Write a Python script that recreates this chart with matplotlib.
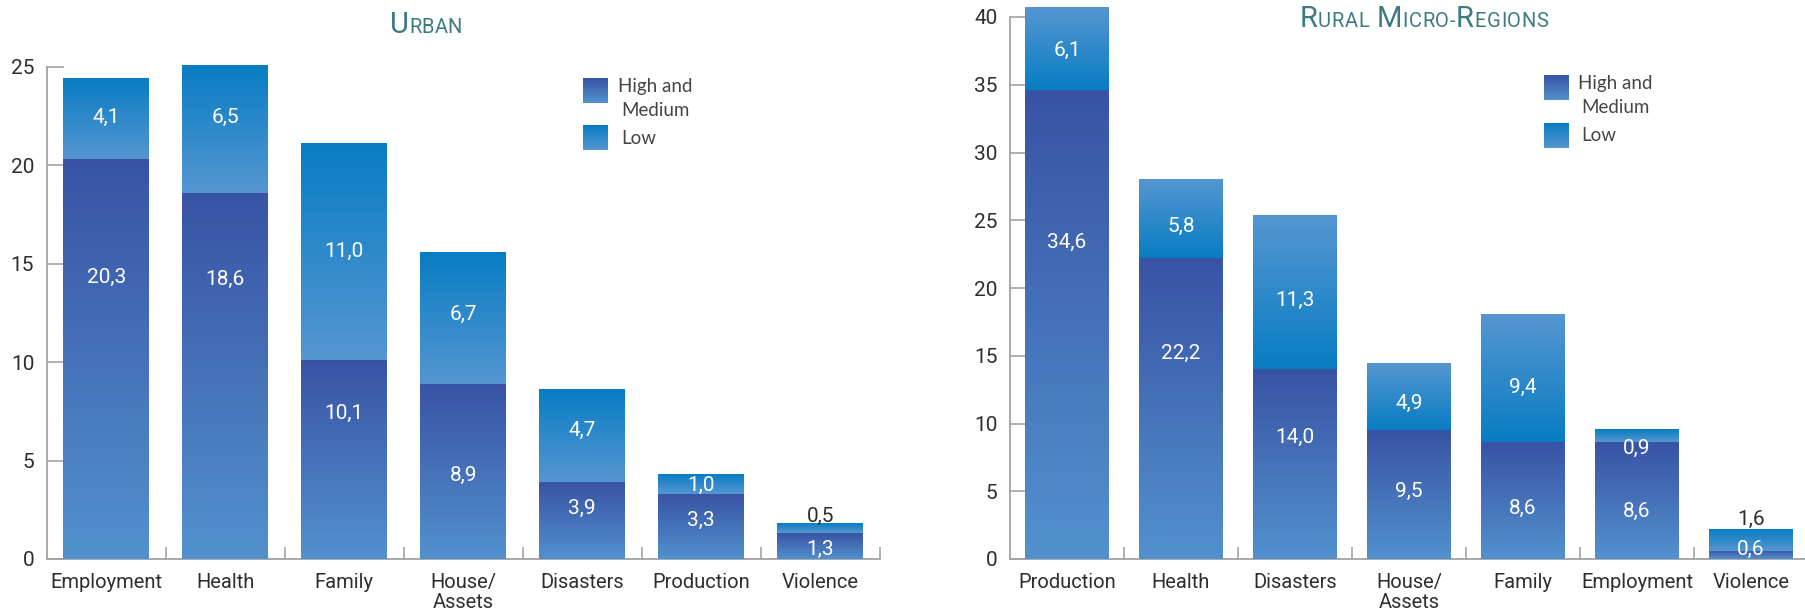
import re
import numpy as np
import matplotlib
matplotlib.use("Agg")
import matplotlib.pyplot as plt
from matplotlib.colors import LinearSegmentedColormap
from matplotlib.ticker import FixedLocator

W, H = 1806, 612

# Urban
urb_cats = ["Employment", "Health", "Family", "House/\nAssets", "Disasters", "Production", "Violence"]
urb_mid = [20.3, 18.6, 10.1, 8.9, 3.9, 3.3, 1.3]   # high and medium
urb_low = [4.1, 6.5, 11.0, 6.7, 4.7, 1.0, 0.5]

# Rural micro-regions
rur_cats = ["Production", "Health", "Disasters", "House/\nAssets", "Family", "Employment", "Violence"]
rur_mid = [34.6, 22.2, 14.0, 9.5, 8.6, 8.6, 0.6]
rur_low = [6.1, 5.8, 11.3, 4.9, 9.4, 0.9, 1.6]

legend_lines = ["High and", "Medium", "Low"]

# where each value label sits, as a fraction of its own segment
urb_lab_mid = [0.71, 0.77, 0.745, 0.49, 0.68, 0.63, 0.47]
urb_lab_low = [0.55, 0.61, 0.51, 0.545, 0.58, 0.56, 1.98]
rur_lab_mid = [0.68, 0.69, 0.65, 0.54, 0.45, 0.43, 1.48]
rur_lab_low = [0.50, 0.43, 0.46, 0.43, 0.45, -0.29, 1.56]
# low segments that get lighter towards the top
rur_low_flip = [True, True, True, True, True, False, False]
urb_low_flip = [False] * 7

FONT = "Roboto"
MID_TOP, MID_BOT = "#3953a4", "#5291ce"
LOW_TOP, LOW_BOT = "#087dc3", "#5596d1"
GREY = "#a3a3a3"
TXT = "#2e2e2e"
TITLE_C = "#3d7b81"

grad = np.linspace(0, 1, 256)[:, None]


def fill_gradient(ax, patch, top, bot):
    cmap = LinearSegmentedColormap.from_list("g", [top, bot])
    x0, y0 = patch.get_x(), patch.get_y()
    ext = (x0, x0 + patch.get_width(), y0, y0 + patch.get_height())
    ax.imshow(grad, cmap=cmap, extent=ext, aspect="auto", origin="upper",
              interpolation="bilinear", zorder=3, clip_on=False)


def fmt(v):
    return f"{v:.1f}".replace(".", ",")


def panel(ax, cats, mid, low, ymax, width, lab_mid, lab_low, low_flip):
    x = np.arange(len(cats))
    b_mid = ax.bar(x, mid, width, color=MID_BOT, zorder=2, clip_on=False)
    b_low = ax.bar(x, low, width, bottom=mid, color=LOW_BOT, zorder=2, clip_on=False)
    for p in b_mid:
        fill_gradient(ax, p, MID_TOP, MID_BOT)
    for p, flip in zip(b_low, low_flip):
        if flip:
            fill_gradient(ax, p, LOW_BOT, LOW_TOP)
        else:
            fill_gradient(ax, p, LOW_TOP, LOW_BOT)

    for i in range(len(cats)):
        total = mid[i] + low[i]
        for val, y in ((mid[i], mid[i] * lab_mid[i]),
                       (low[i], mid[i] + low[i] * lab_low[i])):
            col = TXT if y > total else "white"
            ax.text(x[i], y, fmt(val), ha="center", va="center_baseline",
                    color=col, fontsize=15, family=FONT, zorder=5)

    ax.set_xlim(-0.5, len(cats) - 0.5)
    ax.set_ylim(0, ymax)
    ax.set_yticks(np.arange(0, ymax + 1, 5))
    ax.set_xticks(x)
    ax.set_xticklabels(cats, family=FONT, fontsize=14.5, color=TXT, linespacing=1.05)
    ax.xaxis.set_minor_locator(FixedLocator(x + 0.5))
    for lab in ax.get_yticklabels():
        lab.set_family(FONT)
    ax.tick_params(axis="y", direction="in", length=12.5, width=1.2, color=GREY,
                   labelsize=15, labelcolor=TXT, pad=9)
    ax.tick_params(axis="x", which="major", length=0, pad=10)
    ax.tick_params(axis="x", which="minor", direction="in", length=9, width=1.2, color=GREY)
    for s in ("top", "right"):
        ax.spines[s].set_visible(False)
    for s in ("left", "bottom"):
        ax.spines[s].set_color(GREY)
        ax.spines[s].set_linewidth(1.3)
    ax.spines["left"].set_bounds(0, ymax)
    ax.patch.set_alpha(0)


def smallcaps(fig, text, cx, base, width, big=21, small=14.5):
    # first letter of each word large, the rest as small capitals,
    # letters spread so the whole title spans `width` pixels
    r = fig.canvas.get_renderer()
    glyphs = []
    for tok in re.split(r"([ -])", text):
        if tok == "":
            continue
        if tok in (" ", "-"):
            glyphs.append((tok, small))
        else:
            glyphs.append((tok[0].upper(), big))
            glyphs += [(c, small) for c in tok[1:].upper()]
    items, widths = [], []
    for ch, size in glyphs:
        if ch == " ":
            items.append(None)
            widths.append(size * 1.39 * 0.28)
            continue
        t = fig.text(0, 1 - base / H, ch, fontsize=size, family=FONT, color=TITLE_C,
                     va="baseline", ha="left")
        items.append(t)
        widths.append(t.get_window_extent(r).width)
    track = (width - sum(widths)) / (len(glyphs) - 1)
    x = cx - width / 2
    for t, w in zip(items, widths):
        if t is not None:
            t.set_x(x / W)
        x += w + track


def legend(fig, sq_x, sq_y, tx, bases):
    fills = [(MID_TOP, MID_BOT), (LOW_TOP, LOW_BOT)]
    for (top, bot), y in zip(fills, sq_y):
        la = fig.add_axes([sq_x / W, 1 - (y + 25) / H, 25 / W, 25 / H])
        la.imshow(grad, cmap=LinearSegmentedColormap.from_list("l", [top, bot]),
                  aspect="auto", interpolation="bilinear")
        la.set_axis_off()
    for xx, b, s in zip(tx, bases, legend_lines):
        fig.text(xx / W, 1 - b / H, s, fontsize=13.5, family="Lato", color="#454545",
                 va="baseline", ha="left")


fig = plt.figure(figsize=(W / 100, H / 100), dpi=100)
ax_u = fig.add_axes([46.7 / W, 1 - 559 / H, 833 / W, 492 / H])
ax_r = fig.add_axes([1010 / W, 1 - 559 / H, 798 / W, 542 / H])

panel(ax_u, urb_cats, urb_mid, urb_low, 25, 0.72, urb_lab_mid, urb_lab_low, urb_low_flip)
panel(ax_r, rur_cats, rur_mid, rur_low, 40, 0.73, rur_lab_mid, rur_lab_low, rur_low_flip)

smallcaps(fig, "Urban", 426, 33, 72)
smallcaps(fig, "Rural Micro-Regions", 1424, 27, 249)

legend(fig, 583, [78, 125], [618, 621, 621], [92, 116, 144])
legend(fig, 1544, [75, 123], [1578, 1581, 1581], [89, 113, 141])

fig.savefig("out.png", dpi=100)
